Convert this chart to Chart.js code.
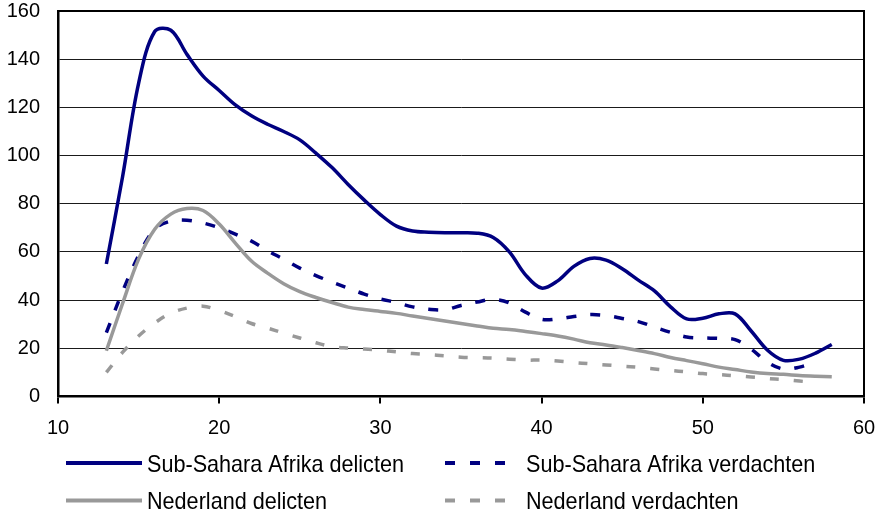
<!DOCTYPE html>
<html>
<head>
<meta charset="utf-8">
<script src="https://cdn.jsdelivr.net/npm/chart.js@4/dist/chart.umd.min.js"></script>
<style>
  html, body { margin: 0; padding: 0; background: #ffffff; }
  canvas { display: block; }
</style>
</head>
<body>
<canvas id="c" width="876" height="512" style="width:876px;height:512px"></canvas>
<script>
// ---- data ----
const ages = [13,14,15,16,17,18,19,20,21,22,23,24,25,26,27,28,29,30,31,32,33,34,35,36,37,38,39,40,41,42,43,44,45,46,47,48,49,50,51,52,53,54,55,56,57,58];

const subSaharaDelicten = [55,91,130,151.5,152,142,133,127,121,116.5,113,110,106.5,101,95,88,81.5,75.5,70.7,68.7,68.2,68,68,67.8,66,60,50.5,45,48,54,57.3,56.6,53,48.3,43.8,37.2,32.2,32.5,34.3,34.3,27.2,19.3,15,15.5,18,21.6];

const subSaharaVerdachten = [26.5,43.5,58.5,69.5,72.8,73.2,72,70,67.4,64.5,60.5,57,53.3,50.2,47.5,45,42.5,40.5,39,37.2,36.2,36,37.8,39.2,40.3,38.8,35,32,32.2,33.2,34,33.6,32.4,31.1,28.8,26.6,24.7,24.3,24.1,23.6,19.7,14.3,11.4,12.2,14.3];

const nederlandDelicten = [19,38.5,57,69.4,75.7,78,77.2,71.6,63.7,56.2,51.2,46.8,43.5,41.1,39,37.1,36.1,35.3,34.5,33.4,32.4,31.3,30.3,29.3,28.3,27.8,27,26.1,25.1,23.8,22.3,21.4,20.3,19.1,17.8,16.2,14.9,13.6,12.2,11.2,10.2,9.5,9.2,8.7,8.4,8.2];

const nederlandVerdachten = [10,18.3,25.1,30.5,34.6,36.7,37.5,35.7,33.2,30.3,28.4,26.3,24.3,22.3,20.7,20.1,19.7,19.2,18.5,17.8,17.4,16.9,16.3,16.1,15.9,15.5,15.1,15.1,14.7,14.1,13.6,13.1,12.6,12.1,11.4,10.8,10.2,9.5,9.1,8.6,8.1,7.5,7,6.4,5.8];

const seriesNames = ["Sub-Sahara Afrika delicten", "Sub-Sahara Afrika verdachten", "Nederland delicten", "Nederland verdachten"];
const xTickValues = [10,20,30,40,50,60];
const yTickValues = [0,20,40,60,80,100,120,140,160];

// ---- styling ----
const NAVY = '#000080';
const GREY = '#999999';
const FONT = '"Liberation Sans", Arial, Helvetica, sans-serif';

function toPoints(vals) { return vals.map((v, i) => ({ x: ages[i], y: v })); }

const seriesStyle = [
  { color: NAVY, dash: [] },
  { color: NAVY, dash: [10, 14] },
  { color: GREY, dash: [] },
  { color: GREY, dash: [9, 15] }
];
const seriesData = [subSaharaDelicten, subSaharaVerdachten, nederlandDelicten, nederlandVerdachten];

// Chart.js draws dataset 0 on top; Excel draws the last series on top -> reverse
const datasets = seriesData.map((vals, i) => ({
  label: seriesNames[i],
  data: toPoints(vals),
  borderColor: seriesStyle[i].color,
  backgroundColor: seriesStyle[i].color,
  borderDash: seriesStyle[i].dash,
  borderWidth: 3.5,
  borderCapStyle: 'butt',
  borderJoinStyle: 'round',
  pointRadius: 0,
  tension: 0.35,
  fill: false
})).reverse();

const framePlugin = {
  id: 'frame',
  beforeDatasetsDraw(chart) {
    const { ctx, chartArea: a } = chart;
    ctx.save();
    ctx.strokeStyle = '#000';
    ctx.lineWidth = 2;
    ctx.beginPath();
    ctx.moveTo(a.left, a.top);
    ctx.lineTo(a.right, a.top);
    ctx.lineTo(a.right, a.bottom);
    ctx.stroke();
    ctx.restore();
  }
};

const legendPlugin = {
  id: 'customLegend',
  afterDraw(chart) {
    const ctx = chart.ctx;
    const cols = [{ lx0: 66, lx1: 142, tx: 147 }, { lx0: 445, lx1: 520, tx: 526 }];
    const rows = [{ ly: 463, ty: 471.5 }, { ly: 500.5, ty: 508.5 }];
    seriesNames.forEach((name, i) => {
      const c = cols[i % 2], r = rows[Math.floor(i / 2)];
      const st = seriesStyle[i];
      ctx.save();
      ctx.strokeStyle = st.color;
      ctx.lineWidth = 4;
      ctx.lineCap = 'butt';
      ctx.setLineDash(st.dash.length ? [10, 15] : []);
      ctx.beginPath();
      ctx.moveTo(c.lx0, r.ly);
      ctx.lineTo(c.lx1, r.ly);
      ctx.stroke();
      ctx.restore();
      ctx.save();
      ctx.fillStyle = '#000';
      ctx.font = '24px ' + FONT;
      ctx.textBaseline = 'alphabetic';
      ctx.textAlign = 'left';
      ctx.translate(c.tx, r.ty);
      ctx.scale(0.9, 1);
      ctx.fillText(name, 0, 0);
      ctx.restore();
    });
  }
};

function zeroPad(s) { s.paddingTop = 0; s.paddingBottom = 0; s.paddingLeft = 0; s.paddingRight = 0; }

new Chart(document.getElementById('c'), {
  type: 'line',
  data: { datasets },
  options: {
    responsive: false,
    devicePixelRatio: 1,
    animation: false,
    layout: { padding: { top: 11, right: 12, bottom: 75.5, left: 0 } },
    plugins: { legend: { display: false }, tooltip: { enabled: false } },
    scales: {
      x: {
        type: 'linear',
        min: 10, max: 60,
        afterBuildTicks: s => { s.ticks = xTickValues.map(v => ({ value: v })); },
        afterFit: s => { s.height = 40; zeroPad(s); },
        ticks: { color: '#000', font: { family: FONT, size: 20 }, padding: 13, maxRotation: 0, autoSkip: false },
        grid: { drawOnChartArea: false, drawTicks: true, tickLength: 7, color: '#000', lineWidth: 2 },
        border: { display: true, color: '#000', width: 2.5 }
      },
      y: {
        min: 0, max: 160,
        afterBuildTicks: s => { s.ticks = yTickValues.map(v => ({ value: v })); },
        afterFit: s => { s.width = 58; zeroPad(s); },
        ticks: { color: '#000', font: { family: FONT, size: 20 }, padding: 18 },
        grid: { color: '#1a1a1a', lineWidth: 1, drawTicks: false },
        border: { display: true, color: '#000', width: 2.5 }
      }
    }
  },
  plugins: [framePlugin, legendPlugin]
});
</script>
</body>
</html>
